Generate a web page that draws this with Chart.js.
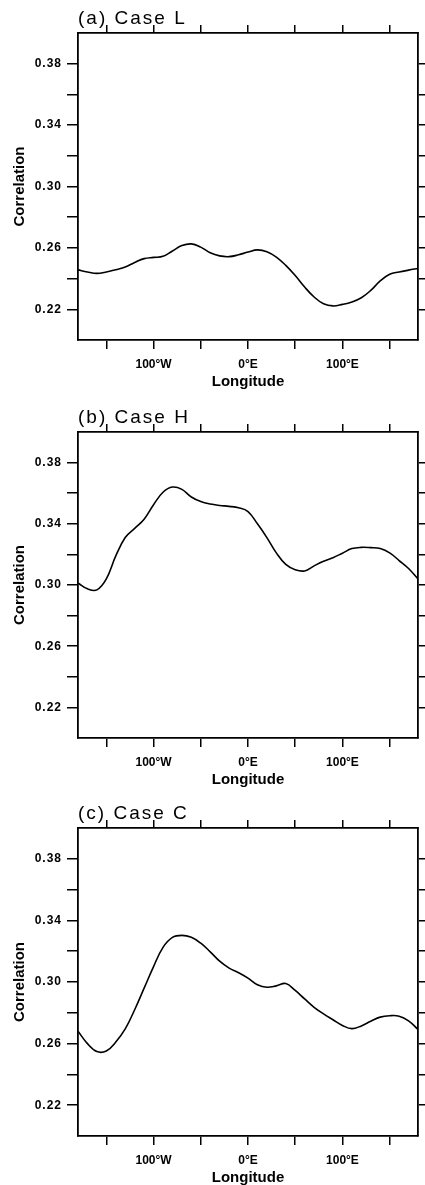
<!DOCTYPE html>
<html>
<head>
<meta charset="utf-8">
<script src="https://cdn.jsdelivr.net/npm/chart.js@4/dist/chart.umd.min.js"></script>
<style>
  html, body { margin: 0; padding: 0; background: #fff; overflow: hidden; width: 425px; height: 1185px; }
  canvas { position: absolute; left: 0; }
</style>
</head>
<body>
<canvas id="cA" width="425" height="391" style="top:0px"></canvas>
<canvas id="cB" width="425" height="390" style="top:399px"></canvas>
<canvas id="cC" width="425" height="392" style="top:795px"></canvas>
<script>
// ---- data ----
const longitude = [-180,-170,-160,-150,-140,-130,-120,-110,-100,-90,-80,-70,-60,-50,-40,-30,-20,-10,0,10,20,30,40,50,60,70,80,90,100,110,120,130,140,150,160,170,180];
const caseL = [0.2457,0.2443,0.2434,0.2443,0.2458,0.2475,0.2505,0.2530,0.2538,0.2545,0.2580,0.2615,0.2626,0.2605,0.2568,0.2548,0.2543,0.2555,0.2573,0.2587,0.2575,0.2540,0.2486,0.2420,0.2345,0.2280,0.2236,0.2222,0.2232,0.2248,0.2275,0.2323,0.2385,0.2428,0.2443,0.2455,0.2466];
const caseH = [0.3013,0.2975,0.2968,0.3040,0.3190,0.3310,0.3370,0.3430,0.3525,0.3606,0.3640,0.3625,0.3575,0.3545,0.3529,0.3520,0.3514,0.3505,0.3480,0.3400,0.3310,0.3210,0.3135,0.3100,0.3092,0.3125,0.3155,0.3178,0.3208,0.3238,0.3246,0.3244,0.3238,0.3210,0.3160,0.3108,0.3040];
const caseC = [0.2680,0.2600,0.2548,0.2552,0.2610,0.2695,0.2820,0.2960,0.3100,0.3225,0.3290,0.3303,0.3290,0.3252,0.3196,0.3135,0.3090,0.3060,0.3025,0.2982,0.2966,0.2975,0.2990,0.2945,0.2890,0.2836,0.2793,0.2755,0.2718,0.2697,0.2715,0.2745,0.2772,0.2781,0.2778,0.2748,0.2692];
const panelTitles = ['(a) Case L', '(b) Case H', '(c) Case C'];
const xTickValues = [-150,-100,-50,0,50,100,150];
const xTickLabels = ['', '100°W', '', '0°E', '', '100°E', ''];
const yTickValues = [0.22,0.24,0.26,0.28,0.30,0.32,0.34,0.36,0.38];
const yTickLabels = ['0.22','','0.26','','0.30','','0.34','','0.38'];
const xRange = [-180, 180];
const yRange = [0.20, 0.40];

// ---- styling ----
const FAM = '"Liberation Sans", Arial, Helvetica, sans-serif';
const BLACK = '#000';

const spacingPlugin = {
  id: 'spacing',
  afterLayout(chart) {
    const tb = chart.titleBlock;
    if (tb && !tb.__wrapped) {
      const orig = tb.draw;
      tb.draw = function (a) { const c = chart.ctx; c.save(); c.letterSpacing = '2px'; orig.call(this, a); c.restore(); };
      tb.__wrapped = true;
    }
    const ys = chart.scales.y;
    if (ys && !ys.__wrapped) {
      const orig = ys.drawLabels;
      ys.drawLabels = function (a) { const c = chart.ctx; c.save(); c.letterSpacing = '1px'; orig.call(this, a); c.restore(); };
      ys.__wrapped = true;
    }
  }
};

function setTicks(values) {
  return (scale) => { scale.ticks = values.map(v => ({ value: v })); };
}

function makePanel(id, title, values) {
  const ctx = document.getElementById(id);
  return new Chart(ctx, {
    type: 'line',
    data: {
      datasets: [{
        data: longitude.map((x, i) => ({ x: x, y: values[i] })),
        borderColor: BLACK,
        borderWidth: 1.6,
        pointRadius: 0,
        fill: false,
        tension: 0.4
      }]
    },
    plugins: [spacingPlugin],
    options: {
      responsive: false,
      animation: false,
      devicePixelRatio: 1,
      layout: { padding: 0 },
      events: [],
      plugins: {
        legend: { display: false },
        tooltip: { enabled: false },
        title: {
          display: true,
          text: title,
          align: 'start',
          fullSize: false,
          color: BLACK,
          font: { family: FAM, size: 19, weight: 'normal', lineHeight: 1.1 },
          padding: { top: 8.0, bottom: 0 }
        }
      },
      scales: {
        x: {
          type: 'linear', position: 'bottom', min: xRange[0], max: xRange[1],
          afterBuildTicks: setTicks(xTickValues),
          afterFit: (s) => { s.height = 51; },
          grid: { drawOnChartArea: false, drawTicks: true, tickLength: 9, color: BLACK, lineWidth: 1.5 },
          border: { display: true, color: BLACK, width: 1.8 },
          ticks: {
            autoSkip: false, maxRotation: 0, color: BLACK, padding: 8.4,
            font: { family: FAM, size: 12, weight: 'bold' },
            callback: (v, i) => xTickLabels[i]
          },
          title: {
            display: true, text: 'Longitude', color: BLACK,
            font: { family: FAM, size: 15, weight: 'bold', lineHeight: 1.2 },
            padding: { top: 0, bottom: 0 }
          }
        },
        x2: {
          type: 'linear', position: 'top', min: xRange[0], max: xRange[1],
          afterBuildTicks: setTicks(xTickValues),
          afterFit: (s) => { s.height = 4.1; },
          grid: { drawOnChartArea: false, drawTicks: true, tickLength: 8, color: BLACK, lineWidth: 1.5 },
          border: { display: true, color: BLACK, width: 1.8 },
          ticks: { display: false }
        },
        y: {
          type: 'linear', position: 'left', min: yRange[0], max: yRange[1],
          afterBuildTicks: setTicks(yTickValues),
          afterFit: (s) => { s.width = 78; },
          grid: { drawOnChartArea: false, drawTicks: true, tickLength: 11, color: BLACK, lineWidth: 1.5 },
          border: { display: true, color: BLACK, width: 1.8 },
          ticks: {
            autoSkip: false, color: BLACK, padding: 5,
            font: { family: FAM, size: 12, weight: 'bold' },
            callback: (v, i) => yTickLabels[i]
          },
          title: {
            display: true, text: 'Correlation', color: BLACK,
            font: { family: FAM, size: 15, weight: 'bold', lineHeight: 1.2 },
            padding: { top: 10.5, bottom: 0 }
          }
        },
        y2: {
          type: 'linear', position: 'right', min: yRange[0], max: yRange[1],
          afterBuildTicks: setTicks(yTickValues),
          afterFit: (s) => { s.width = 7; },
          grid: { drawOnChartArea: false, drawTicks: true, tickLength: 8, color: BLACK, lineWidth: 1.5 },
          border: { display: true, color: BLACK, width: 1.8 },
          ticks: { display: false }
        }
      }
    }
  });
}

makePanel('cA', panelTitles[0], caseL);
makePanel('cB', panelTitles[1], caseH);
makePanel('cC', panelTitles[2], caseC);
</script>
</body>
</html>
